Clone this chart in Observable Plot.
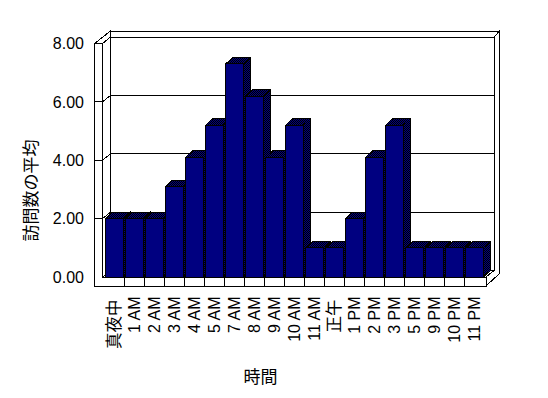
<!DOCTYPE html>
<html><head><meta charset="utf-8">
<script src="https://cdn.jsdelivr.net/npm/d3@7"></script>
<script src="https://cdn.jsdelivr.net/npm/@observablehq/plot@0.6"></script>
<style>html,body{margin:0;padding:0;background:#fff;}#chart{width:548px;height:398px;}</style>
</head><body><div id="chart"></div>
<script>
// ---- data ----
const hours = ["真夜中","1 AM","2 AM","3 AM","4 AM","5 AM","7 AM","8 AM","9 AM","10 AM","11 AM","正午","1 PM","2 PM","3 PM","5 PM","9 PM","10 PM","11 PM"];
const visits = [2.0,2.0,2.0,3.1,4.1,5.2,7.3,6.2,4.1,5.2,1.0,1.0,2.0,4.1,5.2,1.0,1.0,1.0,1.0];
const yTicks = [0,2,4,6,8];
const xTitle = "時間";
const yTitle = "訪問数の平均";

const data = hours.map((h, i) => ({hour: h, value: visits[i]}));

// ---- 3D styling (pixels) ----
const DX = 8, DY = -6.5;      // floor / wall depth
const TX = 5.5, TY = -6;      // wall thickness
const FLOOR = 9, LW = 8;      // floor front height, left wall width
const BDX = 7, BDY = -6.5;    // bar depth
const PADL = 1.7, FW = 17.7;  // bar front inset / width
const NAVY = "#000080";
const LATIN = "'Liberation Sans', Arial, sans-serif";
const CJK = "'Noto Sans CJK JP', sans-serif";

function pathD(pts) { return "M" + pts.map(p => p[0].toFixed(2) + "," + p[1].toFixed(2)).join("L") + "Z"; }

function backFrame(index, {x, y}) {
  const [x0, x1] = x.range();
  const y0 = y(0), yT = y(d3.max(yTicks));
  const xb0 = x0 + DX, xb1 = x1 + DX, ybT = yT + DY, yb0 = y0 + DY;
  const g = d3.create("svg:g").attr("stroke", "#000").attr("stroke-width", 1).attr("shape-rendering", "crispEdges");
  const P = (pts, fill = "#fff") => g.append("path").attr("d", pathD(pts)).attr("fill", fill);
  P([[xb0, ybT], [xb1, ybT], [xb1 + TX, ybT + TY], [xb0, ybT + TY]]);
  P([[xb1, ybT], [xb1 + TX, ybT + TY], [xb1 + TX, y0 + FLOOR + DY + TY], [x1, y0 + FLOOR], [x1, y0], [xb1, yb0]]);
  P([[xb0, ybT], [xb1, ybT], [xb1, yb0], [xb0, yb0]]);
  P([[x0, yT], [xb0, ybT], [xb0, yb0], [x0, y0]]);
  P([[x0, y0], [x1, y0], [xb1, yb0], [xb0, yb0]]);
  for (const v of yTicks.slice(1, -1)) {
    g.append("path").attr("fill", "none")
      .attr("d", `M${x0},${y(v)}L${xb0},${y(v) + DY}L${xb1},${y(v) + DY}`);
  }
  return g.node();
}

function bars3d(index, {x, y}) {
  const g = d3.create("svg:g").attr("stroke", "#000").attr("stroke-width", 1).attr("shape-rendering", "crispEdges");
  const pat = g.append("defs").append("pattern").attr("id", "dither")
    .attr("patternUnits", "userSpaceOnUse").attr("width", 2).attr("height", 2);
  pat.append("rect").attr("width", 2).attr("height", 2).attr("fill", NAVY).attr("stroke", "none");
  pat.append("rect").attr("width", 1).attr("height", 1).attr("fill", "#000").attr("stroke", "none");
  pat.append("rect").attr("x", 1).attr("y", 1).attr("width", 1).attr("height", 1).attr("fill", "#000").attr("stroke", "none");
  const y0 = y(0);
  for (const d of data) {
    const xa = x(d.hour) + PADL, xb = xa + FW, yv = y(d.value);
    g.append("path").attr("fill", "url(#dither)").attr("d", pathD([[xb, yv], [xb + BDX, yv + BDY], [xb + BDX, y0 + BDY], [xb, y0]]));
    g.append("path").attr("fill", "url(#dither)").attr("d", pathD([[xa, yv], [xb, yv], [xb + BDX, yv + BDY], [xa + BDX, yv + BDY]]));
    g.append("path").attr("fill", NAVY).attr("d", pathD([[xa, yv], [xb, yv], [xb, y0], [xa, y0]]));
  }
  return g.node();
}

function frontFrame(index, {x, y}) {
  const [x0, x1] = x.range();
  const y0 = y(0), yT = y(d3.max(yTicks));
  const xb0 = x0 + DX, ybT = yT + DY;
  const g = d3.create("svg:g").attr("stroke", "#000").attr("stroke-width", 1).attr("shape-rendering", "crispEdges");
  const P = (pts, fill = "#fff") => g.append("path").attr("d", pathD(pts)).attr("fill", fill);
  P([[x0 - LW, yT], [x0, yT], [x0, y0], [x1, y0], [x1, y0 + FLOOR], [x0 - LW, y0 + FLOOR]]);
  P([[x0 - LW, yT], [x0, yT], [xb0, ybT], [xb0, ybT + TY]]);
  for (const h of hours.slice(1)) {
    g.append("path").attr("fill", "none").attr("d", `M${x(h)},${y0}L${x(h)},${y0 + FLOOR}`);
  }
  for (const v of yTicks.slice(1, -1)) {
    g.append("path").attr("fill", "none").attr("d", `M${x0 - LW},${y(v)}L${x0},${y(v)}`);
  }
  return g.node();
}

const isCJK = s => /[^\x00-\x7F]/.test(s);

const chart = Plot.plot({
  width: 548,
  height: 398,
  marginLeft: 102.5, marginRight: 62, marginTop: 43.5, marginBottom: 121,
  style: {background: "#fff", fontFamily: LATIN, color: "#000"},
  x: {type: "band", domain: hours, range: [102.5, 486], padding: 0, axis: null},
  y: {type: "linear", domain: [0, 8], range: [277, 43.5], axis: null},
  marks: [
    backFrame,
    bars3d,
    frontFrame,
    Plot.text(yTicks, {y: d => d, text: d => d3.format(".2f")(d), frameAnchor: "left", textAnchor: "end", dx: -19, fontSize: 16, fill: "#000", fontFamily: LATIN}),
    Plot.text(data.filter(d => !isCJK(d.hour)), {x: "hour", text: "hour", frameAnchor: "bottom", rotate: -90, textAnchor: "end", lineAnchor: "middle", dy: 19,
      fontSize: 16, fill: "#000", fontFamily: LATIN}),
    Plot.text(data.filter(d => isCJK(d.hour)), {x: "hour", text: "hour", frameAnchor: "bottom", rotate: -90, textAnchor: "end", lineAnchor: "middle", dy: 22,
      fontSize: 16.5, fill: "#000", fontFamily: CJK}),
    Plot.text([xTitle], {frameAnchor: "bottom", textAnchor: "middle", lineAnchor: "middle", dx: 260 - 294.25, dy: 100, fontSize: 17, fill: "#000", fontFamily: CJK}),
    Plot.text([yTitle], {frameAnchor: "left", rotate: -90, textAnchor: "middle", lineAnchor: "middle", dx: 31 - 102.5, dy: 190 - 160.25, fontSize: 17, fill: "#000", fontFamily: CJK})
  ]
});
document.getElementById("chart").appendChild(chart);
</script>
</body></html>
